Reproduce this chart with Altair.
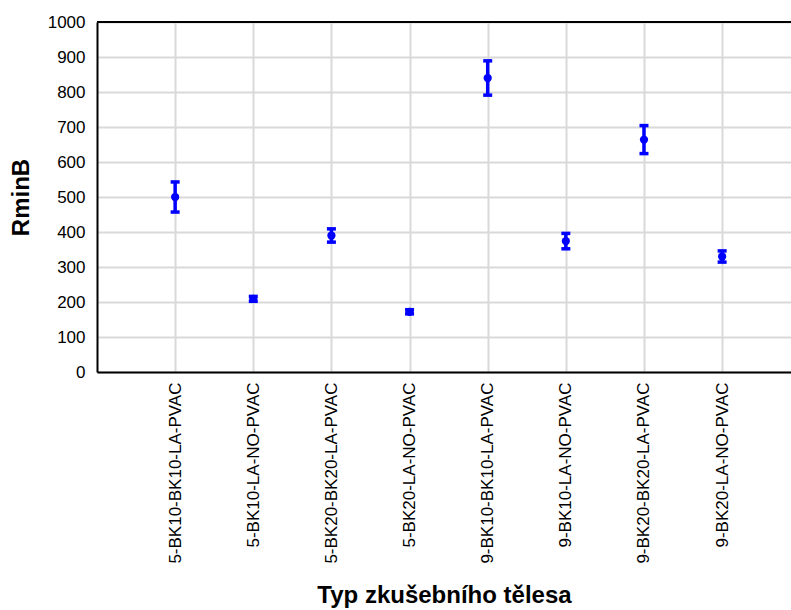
import altair as alt
import pandas as pd

categories = [
    "5-BK10-BK10-LA-PVAC",
    "5-BK10-LA-NO-PVAC",
    "5-BK20-BK20-LA-PVAC",
    "5-BK20-LA-NO-PVAC",
    "9-BK10-BK10-LA-PVAC",
    "9-BK10-LA-NO-PVAC",
    "9-BK20-BK20-LA-PVAC",
    "9-BK20-LA-NO-PVAC",
]
means = [500, 209, 390, 172, 840, 374, 664, 330]
lower = [457, 202, 371, 166, 791, 352, 624, 314]
upper = [543, 216, 409, 178, 889, 396, 704, 346]
y_ticks = list(range(0, 1001, 100))

positions = list(range(1, len(categories) + 1))
df = pd.DataFrame({"pos": positions, "typ": categories, "mean": means, "lo": lower, "hi": upper})

W, H = 694, 350
STEP = 78.14
XMAX = W / STEP
FONT = "Liberation Sans"
BLUE = "#0000ff"
GRID = "#d9d9d9"

label_js = "[" + ",".join("'" + c + "'" for c in categories) + "]"

xscale = alt.Scale(domain=[0, XMAX], nice=False, zero=False)
yscale = alt.Scale(domain=[0, 1000], nice=False, zero=True)

xaxis = alt.Axis(
    title="Typ zkušebního tělesa",
    values=positions,
    labelExpr=label_js + "[datum.value - 1]",
    labelAngle=-90,
    labelAlign="right",
    labelBaseline="middle",
    labelFont=FONT,
    labelFontSize=17,
    labelColor="#000000",
    labelPadding=10,
    labelLimit=400,
    labelOverlap=False,
    labelFlush=False,
    titleFont=FONT,
    titleFontSize=24,
    titleFontWeight="bold",
    titleColor="#000000",
    titlePadding=20,
    titleX=W / 2,
    ticks=False,
    domainColor="#000000",
    domainWidth=2,
    gridColor=GRID,
    gridWidth=2,
    grid=True,
)
yaxis = alt.Axis(
    title="RminB",
    values=y_ticks,
    format="d",
    labelFont=FONT,
    labelFontSize=17,
    labelColor="#000000",
    labelPadding=12,
    labelOverlap=False,
    labelFlush=False,
    titleFont=FONT,
    titleFontSize=24,
    titleFontWeight="bold",
    titleColor="#000000",
    titlePadding=14,
    ticks=False,
    domainColor="#000000",
    domainWidth=2,
    gridColor=GRID,
    gridWidth=2,
    grid=True,
)

base = alt.Chart(df)
X = alt.X("pos:Q", scale=xscale, axis=xaxis)

bars = base.mark_rule(color=BLUE, strokeWidth=3.5).encode(
    x=X,
    y=alt.Y("lo:Q", scale=yscale, axis=yaxis),
    y2="hi:Q",
)
cap_hi = base.mark_tick(color=BLUE, size=9, thickness=3.5, opacity=1, orient="horizontal").encode(
    x=X,
    y=alt.Y("hi:Q", scale=yscale, axis=yaxis),
)
cap_lo = base.mark_tick(color=BLUE, size=9, thickness=3.5, opacity=1, orient="horizontal").encode(
    x=X,
    y=alt.Y("lo:Q", scale=yscale, axis=yaxis),
)
pts = base.mark_circle(color=BLUE, size=68, opacity=1).encode(
    x=X,
    y=alt.Y("mean:Q", scale=yscale, axis=yaxis),
)
border_df = pd.DataFrame({"x0": [0.0], "x1": [XMAX], "ytop": [1000]})
top = alt.Chart(border_df).mark_rule(color="#000000", strokeWidth=2).encode(
    x=alt.X("x0:Q", scale=xscale, axis=xaxis),
    x2="x1:Q",
    y=alt.Y("ytop:Q", scale=yscale, axis=yaxis),
)

chart = (
    alt.layer(bars, cap_hi, cap_lo, pts, top)
    .properties(
        width=W,
        height=H,
        autosize=alt.AutoSizeParams(type="none"),
        padding={"left": 97, "top": 22, "right": 0, "bottom": 238},
        background="#ffffff",
    )
    .configure_view(stroke=None)
)

chart.save("out.html", embed_options={"renderer": "svg", "actions": False})
